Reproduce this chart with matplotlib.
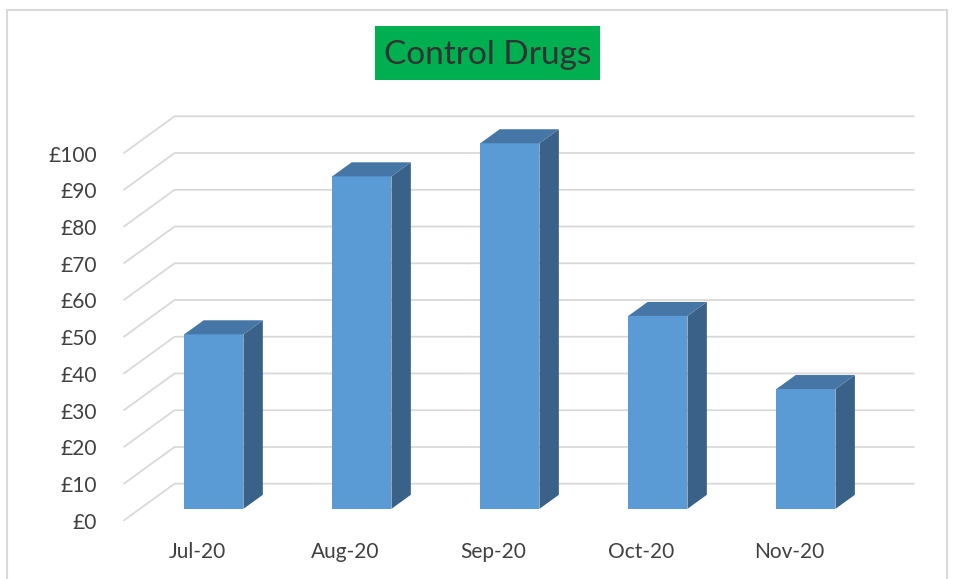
import matplotlib.pyplot as plt
from matplotlib.patches import Polygon, Rectangle

# monthly control drug spend
MONTHS = ['Jul-20', 'Aug-20', 'Sep-20', 'Oct-20', 'Nov-20']
SPEND = [47.5, 90.5, 99.5, 52.5, 32.6]
TICKS = list(range(0, 101, 10))
TICK_LABELS = ['£%d' % t for t in TICKS]

# oblique depth of the floor, in data units (x: categories, y: pounds)
DX, DY = 0.345, 10.07
F_FRONT, F_BACK = 0.32, 0.70
BAR_W = 0.40

FRONT = '#5b9bd5'
TOP = '#4676a6'
SIDE = '#3a6288'
GRID = '#d9d9d9'
TXT = '#404040'

plt.rcParams['font.family'] = ['Lato', 'DejaVu Sans']

W, H = 957, 579
fig = plt.figure(figsize=(W / 100, H / 100), dpi=100)
ax = fig.add_axes([123.5 / W, 58.3 / H, 791.1 / W, 404.4 / H])
ax.set_xlim(-0.5, 4.5 + DX)
ax.set_ylim(0, 100 + DY)
ax.axis('off')

# wall / floor gridlines: short diagonal then along the back wall
x0, x1 = -0.5, 4.5 + DX
for t, lab in zip(TICKS, TICK_LABELS):
    ax.plot([x0, x0 + DX, x1], [t, t + DY, t + DY], color=GRID, lw=1.3,
            clip_on=False, zorder=1, solid_capstyle='butt')
    ax.text(x0 - 0.182, t - 0.6, lab, ha='right', va='center', fontsize=15,
            color=TXT)

# bars: front face plus top and side faces pushed back along the depth
xs = range(len(MONTHS))
fx = [i + F_FRONT * DX for i in xs]
ax.bar(fx, SPEND, width=BAR_W, bottom=F_FRONT * DY, color=FRONT,
       zorder=3, linewidth=0)
ddx, ddy = (F_BACK - F_FRONT) * DX, (F_BACK - F_FRONT) * DY
for cx, v in zip(fx, SPEND):
    l, r = cx - BAR_W / 2, cx + BAR_W / 2
    b, t = F_FRONT * DY, F_FRONT * DY + v
    side = Polygon([(r, b), (r + ddx, b + ddy), (r + ddx, t + ddy), (r, t)],
                   closed=True, facecolor=SIDE, edgecolor='none', zorder=3)
    top = Polygon([(l, t), (r, t), (r + ddx, t + ddy), (l + ddx, t + ddy)],
                  closed=True, facecolor=TOP, edgecolor='none', zorder=3)
    ax.add_patch(side)
    ax.add_patch(top)

for i, m in zip(xs, MONTHS):
    ax.text(i, -8.6, m, ha='center', va='center', fontsize=15, color=TXT)

# title in a green box
fig.patches.append(Rectangle((375 / W, (H - 80) / H), 225 / W, 54 / H,
                             transform=fig.transFigure, facecolor='#00b050',
                             edgecolor='none'))
fig.text(487.5 / W, (H - 55.5) / H, 'Control Drugs', ha='center', va='center',
         fontsize=24, color='#333333')

# chart area border
fig.patches.append(Rectangle((7 / W, -0.1), 940 / W, (H - 10) / H + 0.1,
                             transform=fig.transFigure, fill=False,
                             edgecolor=GRID, lw=1.5))

fig.savefig('out.png', dpi=100)
